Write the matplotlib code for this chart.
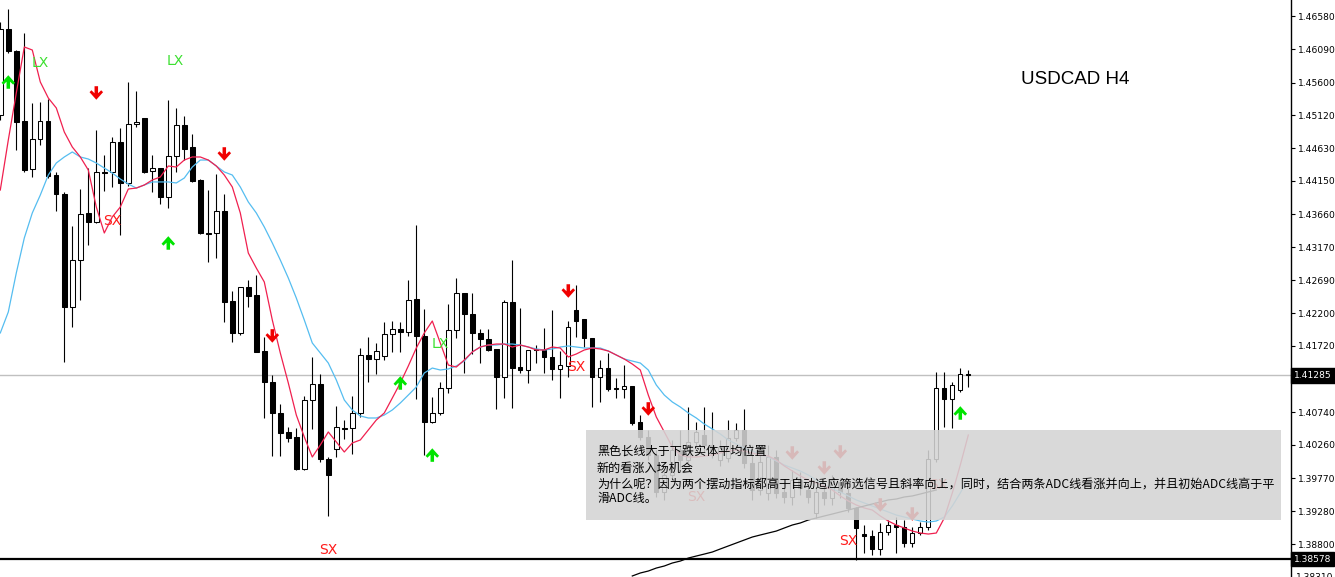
import matplotlib
matplotlib.use("Agg")
import matplotlib.pyplot as plt
from matplotlib.path import Path
from matplotlib.patches import Rectangle

# USDCAD H4 candles
opens = [
    1.45121, 1.46389, 1.46064, 1.45033, 1.44326, 1.44768, 1.45033, 1.44237, 1.43957, 1.42292,
    1.42985, 1.43678, 1.43545, 1.44282, 1.44282, 1.44724, 1.44120, 1.44989, 1.45078, 1.44296,
    1.44340, 1.43913, 1.44517, 1.44974, 1.44650, 1.44164, 1.43383, 1.43383, 1.43707, 1.42381,
    1.41910, 1.42587, 1.42469, 1.41644, 1.41188, 1.40731, 1.40451, 1.40377, 1.39906, 1.40922,
    1.41158, 1.40053, 1.40200, 1.40510, 1.40510, 1.40731, 1.41585, 1.41526, 1.41570, 1.41895,
    1.41969, 1.41925, 1.42410, 1.41866, 1.40598, 1.40731, 1.41099, 1.41954, 1.42499, 1.42189,
    1.41910, 1.41821, 1.41674, 1.41261, 1.42366, 1.41408, 1.41364, 1.41674, 1.41659, 1.41556,
    1.41379, 1.41423, 1.42248, 1.42116, 1.41836, 1.41261, 1.41393, 1.41099, 1.41084, 1.41128,
    1.40598, 1.40377, 1.40111, 1.39567, 1.39817, 1.40185, 1.40038, 1.40303, 1.40406, 1.40259,
    1.40038, 1.40067, 1.40362, 1.40480, 1.39994, 1.39596, 1.39552, 1.40082, 1.39567, 1.39493,
    1.39743, 1.39596, 1.39257, 1.39567, 1.39478, 1.39714, 1.39552, 1.39331, 1.38947, 1.38918,
    1.38727, 1.38977, 1.39080, 1.39051, 1.38815, 1.38962, 1.39051, 1.40053, 1.41099, 1.40937,
    1.41069, 1.41305]
highs = [
    1.46492, 1.46684, 1.46079, 1.46330, 1.45299, 1.45314, 1.45357, 1.44282, 1.43987, 1.43486,
    1.44031, 1.44340, 1.44900, 1.44532, 1.44797, 1.44930, 1.45608, 1.45475, 1.45078, 1.44532,
    1.44340, 1.45343, 1.45225, 1.45107, 1.44841, 1.44178, 1.44016, 1.44252, 1.43957, 1.42528,
    1.42587, 1.42690, 1.42764, 1.41851, 1.41291, 1.40864, 1.40524, 1.40510, 1.40981, 1.41556,
    1.41305, 1.40082, 1.40834, 1.40627, 1.40981, 1.41688, 1.41851, 1.41762, 1.42072, 1.42086,
    1.42072, 1.42690, 1.43501, 1.42263, 1.40966, 1.41188, 1.42337, 1.42720, 1.42499, 1.42499,
    1.41969, 1.41969, 1.41674, 1.42396, 1.42985, 1.42278, 1.41659, 1.41733, 1.41984, 1.42248,
    1.41644, 1.42086, 1.42617, 1.42116, 1.41836, 1.41511, 1.41615, 1.41246, 1.41438, 1.41128,
    1.40701, 1.40480, 1.40185, 1.39891, 1.40333, 1.40480, 1.40819, 1.40598, 1.40819, 1.40745,
    1.40333, 1.40627, 1.40583, 1.40790, 1.40259, 1.40111, 1.40259, 1.40185, 1.39626, 1.39891,
    1.39862, 1.39714, 1.39626, 1.39714, 1.39817, 1.39773, 1.39670, 1.39345, 1.39080, 1.39006,
    1.39110, 1.39154, 1.39198, 1.39154, 1.39051, 1.39124, 1.40185, 1.41335, 1.41335, 1.41188,
    1.41393, 1.41364]
lows = [
    1.45048, 1.46035, 1.44606, 1.44282, 1.44208, 1.44680, 1.44193, 1.43707, 1.41482, 1.41998,
    1.42396, 1.43206, 1.43530, 1.44001, 1.44060, 1.43353, 1.44075, 1.44945, 1.44267, 1.43987,
    1.43810, 1.43751, 1.44282, 1.44458, 1.44134, 1.43368, 1.42956, 1.43014, 1.42072, 1.41777,
    1.41880, 1.42292, 1.41630, 1.40657, 1.40097, 1.40097, 1.40303, 1.39891, 1.39891, 1.40495,
    1.40009, 1.39213, 1.40082, 1.40347, 1.40126, 1.40672, 1.41188, 1.41305, 1.41511, 1.41630,
    1.41630, 1.41866, 1.40937, 1.40111, 1.40583, 1.40701, 1.41025, 1.41836, 1.41320, 1.41600,
    1.41467, 1.41644, 1.40790, 1.40952, 1.40805, 1.41320, 1.41173, 1.41467, 1.41320, 1.41217,
    1.40952, 1.41261, 1.41851, 1.41703, 1.40819, 1.40893, 1.41055, 1.40952, 1.40952, 1.40554,
    1.40333, 1.40038, 1.39493, 1.39449, 1.39743, 1.39920, 1.39950, 1.40215, 1.40156, 1.40067,
    1.39950, 1.40009, 1.40318, 1.39920, 1.39449, 1.39522, 1.39449, 1.39478, 1.39405, 1.39375,
    1.39522, 1.39405, 1.39183, 1.39375, 1.39375, 1.39478, 1.39272, 1.38564, 1.38667, 1.38638,
    1.38638, 1.38933, 1.38667, 1.38756, 1.38756, 1.38933, 1.39006, 1.40009, 1.40524, 1.40510,
    1.41040, 1.41114]
closes = [
    1.46389, 1.46064, 1.45019, 1.44311, 1.44768, 1.45033, 1.44223, 1.43957, 1.42292, 1.42985,
    1.43663, 1.43545, 1.44282, 1.44267, 1.44724, 1.44120, 1.44989, 1.45019, 1.44282, 1.44340,
    1.43913, 1.44517, 1.44974, 1.44621, 1.44149, 1.43383, 1.43368, 1.43707, 1.42366, 1.41910,
    1.42587, 1.42455, 1.41630, 1.41188, 1.40731, 1.40436, 1.40362, 1.39906, 1.40922, 1.41158,
    1.40053, 1.39817, 1.40524, 1.40495, 1.40731, 1.41585, 1.41526, 1.41644, 1.41895, 1.41969,
    1.41925, 1.42396, 1.41866, 1.40598, 1.40731, 1.41099, 1.41954, 1.42499, 1.42189, 1.41910,
    1.41821, 1.41659, 1.41261, 1.42366, 1.41393, 1.41364, 1.41659, 1.41659, 1.41556, 1.41379,
    1.41438, 1.41998, 1.42086, 1.41836, 1.41261, 1.41393, 1.41084, 1.41084, 1.41128, 1.40583,
    1.40377, 1.40111, 1.39567, 1.39817, 1.40185, 1.40038, 1.40303, 1.40451, 1.40259, 1.40185,
    1.40230, 1.40362, 1.40480, 1.39994, 1.39596, 1.40009, 1.40082, 1.39552, 1.39493, 1.39743,
    1.39626, 1.39493, 1.39567, 1.39478, 1.39743, 1.39567, 1.39331, 1.39036, 1.38918, 1.38727,
    1.38977, 1.39080, 1.39051, 1.38815, 1.38962, 1.39051, 1.40053, 1.41099, 1.40937, 1.41143,
    1.41305, 1.41285]

# fast (red) and slow (blue) ADC lines
red_line = [
    1.44016, 1.44753, 1.45446, 1.46124, 1.46079, 1.45608, 1.45372, 1.45225, 1.44871, 1.44650,
    1.44503, 1.44311, 1.43766, 1.43383, 1.43619, 1.43766, 1.44031, 1.44045, 1.44090, 1.44164,
    1.44208, 1.44370, 1.44355, 1.44458, 1.44503, 1.44503, 1.44458, 1.44370, 1.44237, 1.44061,
    1.43678, 1.43088, 1.42867, 1.42661, 1.42101, 1.41615, 1.41173, 1.40701, 1.40377, 1.40082,
    1.40259, 1.40451, 1.40304, 1.40156, 1.40289, 1.40333, 1.40480, 1.40627, 1.40731, 1.40951,
    1.41173, 1.41423, 1.41688, 1.41910, 1.42086, 1.41762, 1.41437, 1.41408, 1.41511, 1.41630,
    1.41703, 1.41732, 1.41747, 1.41747, 1.41703, 1.41732, 1.41703, 1.41659, 1.41659, 1.41703,
    1.41688, 1.41556, 1.41600, 1.41659, 1.41688, 1.41674, 1.41644, 1.41585, 1.41526, 1.41452,
    1.41364, 1.40995, 1.40672, 1.40451, 1.40230, 1.40111, 1.40082, 1.40082, 1.40097, 1.40111,
    1.40141, 1.40170, 1.40185, 1.40170, 1.40141, 1.40111, 1.40097, 1.40038, 1.39950, 1.39876,
    1.39803, 1.39743, 1.39699, 1.39655, 1.39596, 1.39508, 1.39434, 1.39375, 1.39331, 1.39301,
    1.39213, 1.39139, 1.39080, 1.39036, 1.38991, 1.38962, 1.38947, 1.38962, 1.39183, 1.39552,
    1.39964, 1.40406]
blue_line = [
    1.41910, 1.42219, 1.42794, 1.43309, 1.43678, 1.43942, 1.44237, 1.44414, 1.44503, 1.44577,
    1.44503, 1.44473, 1.44414, 1.44340, 1.44267, 1.44178, 1.44105, 1.44045, 1.44090, 1.44135,
    1.44135, 1.44135, 1.44120, 1.44193, 1.44355, 1.44458, 1.44458, 1.44370, 1.44282, 1.44237,
    1.44061, 1.43840, 1.43678, 1.43471, 1.43236, 1.42985, 1.42720, 1.42425, 1.42101, 1.41762,
    1.41615, 1.41467, 1.41217, 1.40922, 1.40775, 1.40687, 1.40657, 1.40657, 1.40701, 1.40775,
    1.40878, 1.40995, 1.41114, 1.41320, 1.41393, 1.41364, 1.41379, 1.41423, 1.41496, 1.41630,
    1.41703, 1.41732, 1.41732, 1.41747, 1.41747, 1.41732, 1.41703, 1.41674, 1.41659, 1.41674,
    1.41703, 1.41718, 1.41703, 1.41688, 1.41688, 1.41688, 1.41644, 1.41585, 1.41526, 1.41496,
    1.41467, 1.41364, 1.41143, 1.40995, 1.40893, 1.40819, 1.40731, 1.40657, 1.40568, 1.40495,
    1.40421, 1.40333, 1.40274, 1.40215, 1.40170, 1.40126, 1.40082, 1.40023, 1.39964, 1.39920,
    1.39876, 1.39817, 1.39743, 1.39670, 1.39611, 1.39567, 1.39508, 1.39449, 1.39405, 1.39360,
    1.39316, 1.39272, 1.39227, 1.39198, 1.39168, 1.39139, 1.39124, 1.39139, 1.39198, 1.39360,
    1.39552, 1.39773]
# black long-term line, bars 79..117
slow_start = 79
slow_line = [
    1.38329, 1.38373, 1.38402, 1.38446, 1.38476, 1.38520, 1.38549, 1.38593, 1.38623, 1.38652,
    1.38682, 1.38727, 1.38771, 1.38815, 1.38859, 1.38903, 1.38933, 1.38962, 1.38991, 1.39036,
    1.39080, 1.39110, 1.39154, 1.39183, 1.39213, 1.39242, 1.39272, 1.39301, 1.39331, 1.39360,
    1.39390, 1.39419, 1.39449, 1.39463, 1.39493, 1.39508, 1.39537, 1.39567, 1.39596]

# signals
up_idx = [1, 21, 50, 54, 120]
up_price = [1.45608, 1.43236, 1.41173, 1.40111, 1.40731]
down_idx = [12, 28, 34, 71, 81, 99, 103, 105, 110, 114]
down_price = [1.45446, 1.44547, 1.41866, 1.42528, 1.40790, 1.40141, 1.39920, 1.40156, 1.39375, 1.39242]
lx_pos = [(4.96, 1.45888), (21.84, 1.45917), (54.96, 1.41747)]
sx_pos = [(13.96, 1.43560), (71.96, 1.41408), (40.96, 1.38712), (105.96, 1.38844),
          (86.96, 1.39493), (117.2, 1.39670)]

bid = 1.41285
low_level = 1.38578
yticks = [1.46580, 1.46090, 1.45600, 1.45120, 1.44630, 1.44150, 1.43660, 1.43170, 1.42690,
          1.42200, 1.41720, 1.41230, 1.40740, 1.40260, 1.39770, 1.39280, 1.38800]

note_lines = [
    "黑色长线大于下跌实体平均位置",
    "新的看涨入场机会",
    "为什么呢？因为两个摆动指标都高于自动适应筛选信号且斜率向上，同时，结合两条ADC线看涨并向上，并且初始ADC线高于平",
    "滑ADC线。",
]

W, H = 1335, 577
AX_W = 1291
fig = plt.figure(figsize=(W / 100, H / 100), dpi=100)
ax = fig.add_axes([0, 0, AX_W / W, 1])
ax.set_xlim(-0.0375, (AX_W - 0.3) / 8)
ax.set_ylim(1.38314, 1.46816)

# candles
n = len(opens)
for i in range(n):
    o, h, l, c = opens[i], highs[i], lows[i], closes[i]
    ax.vlines(i, l, h, color="black", lw=0.8, zorder=2)
    fc = "white" if c > o else "black"
    ax.bar(i, abs(c - o), bottom=min(o, c), width=0.55, facecolor=fc,
           edgecolor="black", linewidth=0.75, zorder=3)

ax.plot(range(n), blue_line, color="#55bdf0", lw=0.9, zorder=4)
ax.plot(range(n), red_line, color="#f0204f", lw=0.9, zorder=4)
ax.plot(range(slow_start, slow_start + len(slow_line)), slow_line, color="black", lw=0.9, zorder=4)

# arrow markers
dn = [(-0.13, 0.5), (0.13, 0.5), (0.13, -0.02), (0.36, 0.2), (0.5, 0.06), (0, -0.5),
      (-0.5, 0.06), (-0.36, 0.2), (-0.13, -0.02), (-0.13, 0.5)]
down_marker = Path(dn, closed=True)
up_marker = Path([(x, -y) for x, y in dn], closed=True)
ax.scatter(up_idx, up_price, marker=up_marker, s=95, color="#00e400", edgecolors="none", zorder=5)
ax.scatter(down_idx, down_price, marker=down_marker, s=95, color="#f00000", edgecolors="none", zorder=5)

for x, y in lx_pos:
    ax.text(x, y, "LX", color="#3ce030", fontsize=10, ha="center", va="center", zorder=5)
for x, y in sx_pos:
    ax.text(x, y, "SX", color="#ff1a1a", fontsize=10, ha="center", va="center", zorder=5)

# price lines
ax.axhline(bid, color="#c0c0c0", lw=1, zorder=1)
ax.axhline(low_level, color="black", lw=1.6, zorder=5)

# comment box
ax.add_patch(Rectangle((586 / AX_W, 1 - 520 / H), 695 / AX_W, 90 / H, transform=ax.transAxes,
                       facecolor="#d4d4d4", edgecolor="none", alpha=0.88, zorder=6))
for k, line in enumerate(note_lines):
    ax.text(597 / AX_W, 1 - [451, 468, 484, 498][k] / H, line, transform=ax.transAxes,
            fontsize=8.7, family=["Noto Sans CJK SC", "DejaVu Sans"], ha="left", va="center",
            color="black", zorder=7)

ax.text(1075 / AX_W, 1 - 79 / H, "USDCAD H4", transform=ax.transAxes, fontsize=13.5,
        family="Liberation Sans", ha="center", va="center", color="black")

# axis on the right, MT4 style
for s in ["top", "left", "bottom"]:
    ax.spines[s].set_visible(False)
ax.spines["right"].set_linewidth(1)
ax.set_xticks([])
ax.yaxis.tick_right()
ax.set_yticks(yticks)
ax.set_yticklabels([f"{v:.5f}" for v in yticks])
ax.tick_params(axis="y", length=3, width=0.8, labelsize=6.6, pad=2, colors="black")

ytr = ax.get_yaxis_transform()
for v in [bid, low_level]:
    ax.text(1.0025, v, f"{v:.5f}", transform=ytr, ha="left", va="center", fontsize=6.6,
            color="white", zorder=8,
            bbox=dict(boxstyle="square,pad=0.3", facecolor="black", edgecolor="black"))
ax.text(1.0039, 1.38310, "1.38310", transform=ytr, ha="left", va="center", fontsize=6.6,
        color="black", clip_on=False)

fig.savefig("out.png", dpi=100)
